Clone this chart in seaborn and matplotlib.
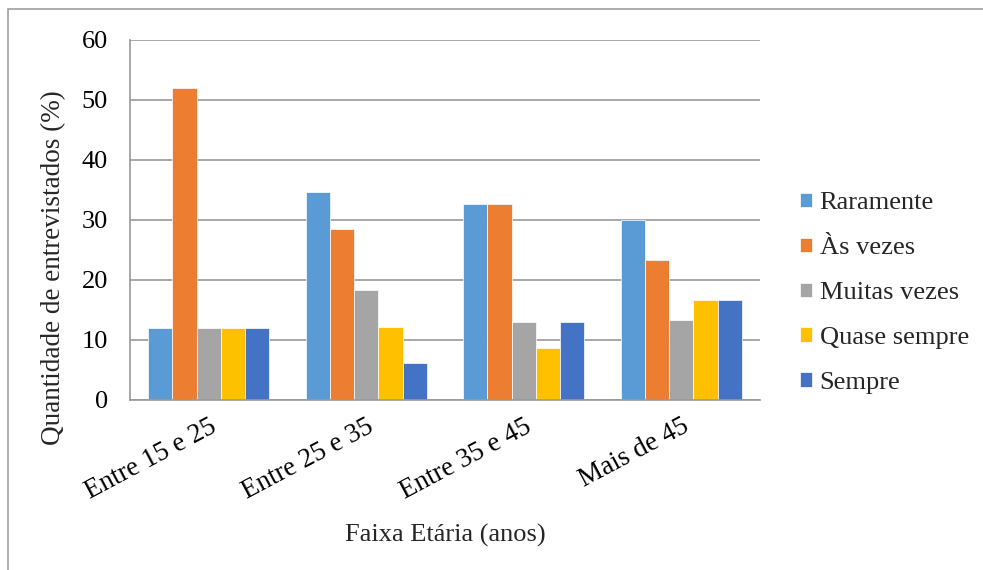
import matplotlib
matplotlib.use("Agg")
import matplotlib.pyplot as plt
import matplotlib.patches as mpatches
import pandas as pd
import seaborn as sns

# Data (percent of respondents)
faixas = ["Entre 15 e 25", "Entre 25 e 35", "Entre 35 e 45", "Mais de 45"]
frequencias = ["Raramente", "Às vezes", "Muitas vezes", "Quase sempre", "Sempre"]
raramente = [12.0, 34.69, 32.61, 30.0]
as_vezes = [52.0, 28.57, 32.61, 23.33]
muitas_vezes = [12.0, 18.37, 13.04, 13.33]
quase_sempre = [12.0, 12.24, 8.70, 16.67]
sempre = [12.0, 6.12, 13.04, 16.67]
cores = ["#5B9BD5", "#ED7D31", "#A5A5A5", "#FFC000", "#4472C4"]

series = [raramente, as_vezes, muitas_vezes, quase_sempre, sempre]
rows = []
for freq, vals in zip(frequencias, series):
    for faixa, v in zip(faixas, vals):
        rows.append({"faixa": faixa, "freq": freq, "valor": v})
df = pd.DataFrame(rows)

sns.set_style("white")
plt.rcParams['font.family'] = ['Liberation Serif', 'DejaVu Serif']

fig = plt.figure(figsize=(9.83, 5.70), dpi=100)
ax = fig.add_axes([130/983, 1 - 400/570, 630/983, 360/570])

sns.barplot(data=df, x="faixa", y="valor", hue="freq", order=faixas,
            hue_order=frequencias, palette=cores, width=0.77,
            edgecolor="white", linewidth=0.5, saturation=1, ax=ax)

ax.set_ylim(0, 60)
ax.set_yticks(range(0, 61, 10))
ax.set_xlim(-0.5, 3.5)
ax.yaxis.grid(True, color="#999999", linewidth=1.2)
ax.set_axisbelow(True)
for s in ["top", "right"]:
    ax.spines[s].set_visible(False)
for s in ["left", "bottom"]:
    ax.spines[s].set_color("#999999")
    ax.spines[s].set_linewidth(1.2)
ax.tick_params(axis="both", length=0, labelsize=19, colors="black")
ax.tick_params(axis="y", pad=16)
ax.tick_params(axis="x", pad=10, labelsize=19.5)
plt.setp(ax.get_xticklabels(), rotation=28, ha="right", rotation_mode="anchor")
ax.set_xlabel("Faixa Etária (anos)", fontsize=19, labelpad=14)
ax.set_ylabel("Quantidade de entrevistados (%)", fontsize=19.5)
ax.yaxis.set_label_coords((66 - 130) / 630, (400 - 268) / 360)

ax.legend(loc="center left", bbox_to_anchor=(776/983, 1 - 293/570),
          bbox_transform=fig.transFigure, frameon=False, fontsize=19,
          handlelength=0.45, handleheight=0.45, handletextpad=0.3,
          labelspacing=0.87)

# outer chart border
fig.patches.append(mpatches.Rectangle((8/983, -0.1), 1.2, 1 - 9/570 + 0.1,
                                      transform=fig.transFigure, fill=False,
                                      edgecolor="#a0a0a0", linewidth=1.2))

fig.savefig("out.png", dpi=100)
